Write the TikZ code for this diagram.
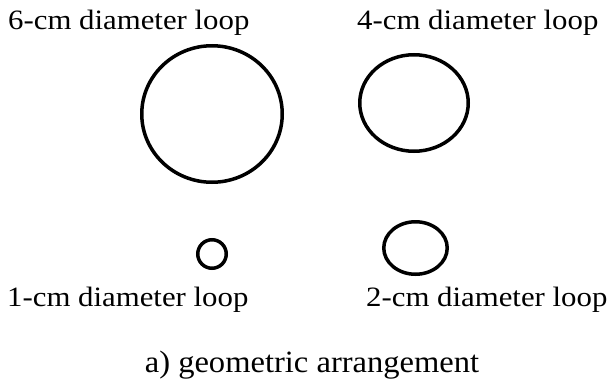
\documentclass[tikz,border=0pt]{standalone}
\usepackage{fontspec}
\setmainfont{Liberation Serif}
\usepackage{tikz}
\usetikzlibrary{shapes.geometric}
\definecolor{LoopInk}{HTML}{000000}
\newcommand{\loopfont}{\fontsize{28}{33}\selectfont}
\newcommand{\capfont}{\fontsize{31}{36}\selectfont}
\tikzset{
  loopring/.style={draw=LoopInk, ellipse, line width=3.5pt, inner sep=0pt},
  looplabel/.style={text=LoopInk, font=\loopfont, anchor=base west, inner sep=0pt, xscale=1.1},
}

\begin{document}
\begin{tikzpicture}[x=1pt,y=-1pt]
  \useasboundingbox (0,0) rectangle (616,388);

  %% 6-cm loop
  \node[loopring, minimum width=140.5pt, minimum height=136.5pt] (ring6) at (212,114) {};
  \node[looplabel] (label6) at (8,29) {6-cm diameter loop};

  %% 4-cm loop
  \node[loopring, minimum width=108.5pt, minimum height=96.5pt] (ring4) at (414,103) {};
  \node[looplabel] (label4) at (357,29) {4-cm diameter loop};

  %% 1-cm loop
  \node[loopring, minimum width=28.5pt, minimum height=28.5pt] (ring1) at (212,254) {};
  \node[looplabel] (label1) at (7,306) {1-cm diameter loop};

  %% 2-cm loop
  \node[loopring, minimum width=63.5pt, minimum height=52.5pt] (ring2) at (415.5,248) {};
  \node[looplabel] (label2) at (366,306) {2-cm diameter loop};

  %% caption
  \node[text=LoopInk, font=\capfont, anchor=base, inner sep=0pt, xscale=1.05] (caption) at (312,372) {a) geometric arrangement};
\end{tikzpicture}
\end{document}
